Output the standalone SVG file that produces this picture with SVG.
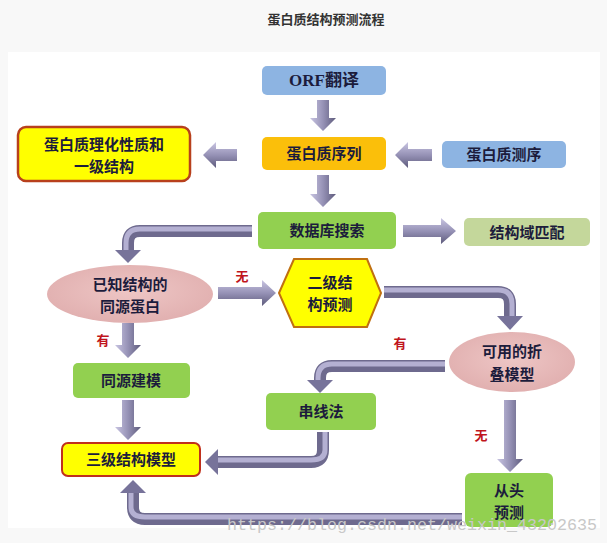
<svg xmlns="http://www.w3.org/2000/svg" width="607" height="543" viewBox="0 0 607 543">
<defs>
<linearGradient id="gv" x1="0" y1="0" x2="1" y2="0"><stop offset="0" stop-color="#c9c5e2"/><stop offset="0.5" stop-color="#9692b6"/><stop offset="1" stop-color="#5e5b7c"/></linearGradient>
<linearGradient id="gh" x1="0" y1="0" x2="0" y2="1"><stop offset="0" stop-color="#c9c5e2"/><stop offset="0.5" stop-color="#9692b6"/><stop offset="1" stop-color="#5e5b7c"/></linearGradient>
<radialGradient id="gp" cx="0.5" cy="0.45" r="0.6"><stop offset="0" stop-color="#eec6c5"/><stop offset="1" stop-color="#e0aeae"/></radialGradient>
</defs>
<style>
.t{font-family:"Noto Sans CJK SC","Noto Sans CJK JP",sans-serif;font-weight:bold;font-size:15px;fill:#1c1c3c;text-anchor:middle}
.r{font-family:"Noto Sans CJK SC",sans-serif;font-weight:bold;font-size:13px;fill:#c0141c;text-anchor:middle}
.tube{fill:none;stroke:#6e6a8e;stroke-width:12;stroke-linejoin:round}
.tubeh{fill:none;stroke:#b4b0d2;stroke-width:5;stroke-linejoin:round}
.head{fill:#77739a}
.av{fill:url(#gv)}
.ah{fill:url(#gh)}
</style>
<rect x="0" y="0" width="607" height="543" fill="#f8f8f8"/>
<rect x="8" y="52" width="592" height="476" fill="#ffffff"/>
<text x="326" y="24" font-family="'Noto Sans CJK SC',sans-serif" font-weight="bold" font-size="13" fill="#333" text-anchor="middle">蛋白质结构预测流程</text>

<g id="connectors">
<polygon class="av" points="317,100 329,100 329,118 336,118 323,131 310,118 317,118"/>
<polygon class="av" points="317,175 329,175 329,194 336,194 323,207 310,194 317,194"/>
<polygon class="ah" points="237,149 237,161 216,161 216,168 203,155 216,142 216,149"/>
<polygon class="ah" points="432,149 432,161 408,161 408,168 395,155 408,142 408,149"/>
<polygon class="ah" points="403,225 403,237 441,237 441,244 456,231 441,218 441,225"/>
<path class="tube" d="M252,231 H140 Q128,231 128,243 V250"/>
<path class="tubeh" d="M252,229 H140 Q126,229 126,243 V250"/>
<polygon class="head" points="115,250 141,250 128,263"/>
<polygon class="ah" points="218,287 218,299 262,299 262,306 276,293 262,280 262,287"/>
<path class="tube" d="M384,292 H498 Q510,292 510,304 V316"/>
<path class="tubeh" d="M384,290 H498 Q512,290 512,304 V316"/>
<polygon class="head" points="497,316 523,316 510,330"/>
<path class="tube" d="M445,366 H332 Q320,366 320,378 V380"/>
<path class="tubeh" d="M445,364 H332 Q318,364 318,378 V380"/>
<polygon class="head" points="307,380 333,380 320,393"/>
<polygon class="av" points="122,323 134,323 134,345 141,345 128,358 115,345 122,345"/>
<polygon class="av" points="122,400 134,400 134,427 141,427 128,440 115,427 122,427"/>
<path class="tube" d="M323,432 V450 Q323,462 311,462 H218"/>
<path class="tubeh" d="M325,432 V450 Q325,460 311,460 H218"/>
<polygon class="head" points="218,449 218,475 205,462"/>
<polygon class="av" points="504,400 516,400 516,459 523,459 510,472 497,459 504,459"/>
<path class="tube" d="M462,519 H145 Q133,519 133,507 V493"/>
<path class="tubeh" d="M462,517 H145 Q131,517 131,507 V493"/>
<polygon class="head" points="120,493 146,493 133,480"/>
</g>

<g id="n-orf"><rect x="262" y="66" width="124" height="29" rx="5" fill="#8db4e2"/><text x="324" y="86" font-family="'Liberation Serif','Noto Sans CJK SC',serif" font-weight="bold" font-size="17" fill="#1c1c3c" text-anchor="middle">ORF翻译</text></g>
<g id="n-seq"><rect x="262" y="137" width="124" height="33" rx="5" fill="#fbbf0a"/><text class="t" x="324" y="159">蛋白质序列</text></g>
<g id="n-phys"><rect x="18" y="127" width="172" height="54" rx="8" fill="#ffff00" stroke="#b8401c" stroke-width="2.5"/><text class="t" x="104" y="150">蛋白质理化性质和</text><text class="t" x="104" y="172">一级结构</text></g>
<g id="n-sequencing"><rect x="442" y="141" width="124" height="27" rx="5" fill="#8db4e2"/><text class="t" x="504" y="160">蛋白质测序</text></g>
<g id="n-db"><rect x="258" y="212" width="138" height="37" rx="5" fill="#92d050"/><text class="t" x="327" y="236">数据库搜索</text></g>
<g id="n-domain"><rect x="464" y="218" width="126" height="28" rx="5" fill="#c4d79b"/><text class="t" x="527" y="238">结构域匹配</text></g>
<g id="n-homolog"><ellipse cx="130" cy="294" rx="83" ry="29" fill="url(#gp)"/><text class="t" x="130" y="290">已知结构的</text><text class="t" x="130" y="312">同源蛋白</text></g>
<g id="n-secondary"><polygon points="279,293 294,259 367,259 381,293 367,327 294,327" fill="#ffff00" stroke="#c07010" stroke-width="2"/><text class="t" x="330" y="288">二级结</text><text class="t" x="330" y="310">构预测</text></g>
<g id="n-fold"><ellipse cx="512" cy="362" rx="63" ry="30" fill="url(#gp)"/><text class="t" x="512" y="357">可用的折</text><text class="t" x="512" y="380">叠模型</text></g>
<g id="n-homomodel"><rect x="73" y="363" width="117" height="35" rx="5" fill="#92d050"/><text class="t" x="131" y="386">同源建模</text></g>
<g id="n-threading"><rect x="266" y="393" width="110" height="37" rx="5" fill="#92d050"/><text class="t" x="321" y="417">串线法</text></g>
<g id="n-tertiary"><rect x="62" y="443" width="138" height="33" rx="6" fill="#ffff00" stroke="#c0301c" stroke-width="2"/><text class="t" x="131" y="465">三级结构模型</text></g>
<g id="n-denovo"><rect x="465" y="473" width="88" height="54" rx="6" fill="#92d050"/><text class="t" x="509" y="496">从头</text><text class="t" x="509" y="518">预测</text></g>

<g id="labels">
<text class="r" x="242" y="281">无</text>
<text class="r" x="400" y="348">有</text>
<text class="r" x="103" y="345">有</text>
<text class="r" x="481" y="440">无</text>
</g>
<text x="227" y="530" font-family="'Liberation Mono',monospace" font-size="17" fill="#c8c8c8" textLength="370" lengthAdjust="spacingAndGlyphs">https://blog.csdn.net/weixin_43202635</text>
</svg>
